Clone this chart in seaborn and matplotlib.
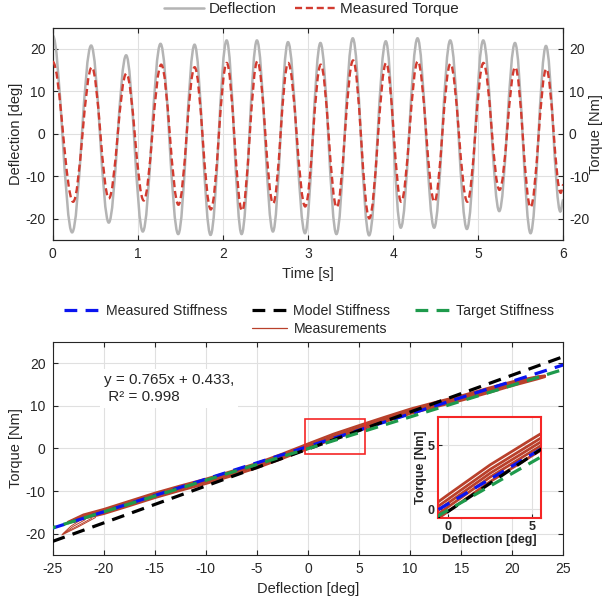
import numpy as np
import pandas as pd
import seaborn as sns
import matplotlib
matplotlib.use("Agg")
import matplotlib.pyplot as plt
from matplotlib.path import Path
from matplotlib.patches import PathPatch, Rectangle
from matplotlib.lines import Line2D

# ---------------- data ----------------
# Top panel: extrema (peaks / troughs) of the time series
defl_time = [0.0, 0.228, 0.452, 0.659, 0.863, 1.059, 1.267, 1.475, 1.667, 1.855,
             2.044, 2.22, 2.40, 2.588, 2.765, 2.965, 3.146, 3.334, 3.526, 3.718,
             3.914, 4.09, 4.287, 4.482, 4.671, 4.867, 5.059, 5.247, 5.432, 5.615,
             5.796, 5.965, 6.0]
defl_value = [23.2, -23.2, 20.8, -20.9, 18.5, -23.0, 21.2, -23.6, 21.0, -23.8,
              22.0, -23.6, 22.0, -23.0, 21.6, -23.4, 21.4, -23.6, 22.5, -23.9,
              21.8, -22.1, 22.5, -22.1, 22.0, -22.4, 22.0, -18.2, 21.4, -23.4,
              20.7, -18.3, -15.5]
torque_time = [0.0, 0.24, 0.46, 0.66, 0.865, 1.07, 1.275, 1.478, 1.668, 1.858,
               2.045, 2.225, 2.405, 2.59, 2.767, 2.967, 3.15, 3.337, 3.53, 3.72,
               3.918, 4.095, 4.29, 4.485, 4.673, 4.872, 5.061, 5.25, 5.435, 5.615,
               5.8, 5.97, 6.0]
torque_value = [17.0, -16.0, 15.7, -15.2, 14.2, -15.7, 16.3, -16.7, 15.7, -17.8,
                16.7, -18.1, 17.1, -16.4, 16.7, -17.1, 16.3, -17.3, 17.3, -19.9,
                16.7, -16.0, 17.1, -16.0, 16.5, -16.0, 16.7, -13.2, 15.7, -17.3,
                15.3, -13.9, -12.0]

time_ticks = [0, 1, 2, 3, 4, 5, 6]
val_ticks = [-20, -10, 0, 10, 20]

# Bottom panel: torque vs deflection measurement curves
meas_defl = [-23.5, -22, -20, -17.5, -15, -12.5, -10, -7.5, -5, -2.5, 0,
             2.5, 5, 7.5, 10, 12.5, 15, 17.5, 20, 22.5, 23.2]
meas_a = [-17.2, -15.5, -14.2, -12.3, -10.4, -8.7, -7.1, -5.3, -3.4, -1.2, 1.15,
          3.45, 5.45, 7.4, 9.3, 10.9, 12.4, 14.1, 15.7, 16.9, 17.1]
meas_b = [-17.3, -15.8, -14.5, -12.6, -10.7, -9.0, -7.4, -5.6, -3.7, -1.5, 0.8,
          3.1, 5.1, 7.1, 9.0, 10.6, 12.1, 13.8, 15.45, 16.75, 17.0]
meas_c = [-17.4, -16.0, -14.8, -12.9, -11.0, -9.3, -7.7, -5.9, -4.0, -1.8, 0.5,
          2.8, 4.8, 6.8, 8.7, 10.3, 11.8, 13.5, 15.2, 16.6, 16.9]
meas_d = [-17.5, -16.2, -15.1, -13.2, -11.3, -9.6, -8.0, -6.2, -4.3, -2.1, 0.2,
          2.5, 4.5, 6.5, 8.4, 10.0, 11.5, 13.2, 14.95, 16.45, 16.8]
meas_e = [-17.6, -16.5, -15.4, -13.55, -11.65, -9.95, -8.35, -6.55, -4.65, -2.45, -0.15,
          2.15, 4.15, 6.15, 8.05, 9.65, 11.15, 12.85, 14.6, 16.2, 16.7]
hook1_defl = [-20.8, -22.5, -24.1, -23.0, -21.8]
hook1_torque = [-16.2, -18.4, -20.3, -18.3, -16.7]
hook2_defl = [-21.2, -22.8, -24.0, -23.2, -22.4]
hook2_torque = [-16.4, -18.5, -20.0, -18.2, -17.0]

stiff_defl = [-25, 25]
measured_stiff = [-18.69, 19.56]
model_stiff = [-21.8, 21.5]
target_stiff = [-18.6, 18.5]

defl_ticks = [-25, -20, -15, -10, -5, 0, 5, 10, 15, 20, 25]
inset_ticks = [0, 5]
zoom_box = [-0.3, 5.6, -1.25, 7.0]      # x0, x1, y0, y1 of the red box
inset_lims = [-0.64, 5.54, -0.7, 7.2]

fit_text = "y = 0.765x + 0.433,\n R\u00b2 = 0.998"

# ---------------- style ----------------
sns.set_theme(style="whitegrid")
plt.rcParams['font.family'] = ['Liberation Sans', 'DejaVu Sans']
dark = '#262626'
plt.rcParams.update({
    'axes.edgecolor': dark, 'axes.linewidth': 0.8,
    'grid.color': '#E0E0E0', 'grid.linewidth': 0.8,
    'text.color': dark, 'axes.labelcolor': dark,
    'xtick.color': dark, 'ytick.color': dark,
    'xtick.direction': 'in', 'ytick.direction': 'in',
    'axes.unicode_minus': False,
})

GRAY = '#B4B4B4'
RED_T = '#D23B30'
MEAS = '#B9402B'
BLUE = '#0A14F0'
GREEN = '#1E9A4C'
BOX_RED = '#F52626'

fig = plt.figure(figsize=(6.09, 6.05), dpi=100)
ax1 = fig.add_axes([0.0865, 0.6033, 0.8385, 0.3509])
ax2 = ax1.twinx()
ax3 = fig.add_axes([0.0865, 0.0826, 0.8385, 0.3526])
axin = fig.add_axes([0.7187, 0.1433, 0.1691, 0.1679])


def smooth_path(ts, vs, k=0.363):
    verts = [(ts[0], vs[0])]
    codes = [Path.MOVETO]
    for i in range(1, len(ts)):
        t0, v0, t1, v1 = ts[i - 1], vs[i - 1], ts[i], vs[i]
        dt = t1 - t0
        verts += [(t0 + k * dt, v0), (t1 - k * dt, v1), (t1, v1)]
        codes += [Path.CURVE4] * 3
    return Path(verts, codes)


# ---------------- top panel ----------------
ax1.add_patch(PathPatch(smooth_path(defl_time, defl_value), fill=False,
                        edgecolor=GRAY, lw=1.8, zorder=3))
ax2.add_patch(PathPatch(smooth_path(torque_time, torque_value), fill=False,
                        edgecolor=RED_T, lw=1.7, linestyle=(0, (3.0, 1.6)),
                        capstyle='butt', zorder=3))
for a in (ax1, ax2):
    a.set_xlim(0, 6)
    a.set_ylim(-25, 25)
    a.set_yticks(val_ticks)
ax1.set_xticks(time_ticks)
ax1.grid(True)
ax2.grid(False)
ax1.tick_params(axis='both', labelsize=10, length=3.5, width=0.8, pad=5,
                bottom=True, top=True, left=True, right=False)
ax2.tick_params(axis='y', labelsize=10, length=3.5, width=0.8, pad=4, right=True)
ax1.set_xlabel('Time [s]', fontsize=10.5, labelpad=4)
ax1.set_ylabel('Deflection [deg]', fontsize=10.5, labelpad=2)
ax2.set_ylabel('Torque [Nm]', fontsize=10.5, labelpad=0)

top_handles = [Line2D([], [], color=GRAY, lw=1.8),
               Line2D([], [], color=RED_T, lw=1.7, linestyle=(0, (3.0, 1.6)))]
fig.legend(top_handles, ['Deflection', 'Measured Torque'], loc='center',
           bbox_to_anchor=(0.5115, 0.985), ncol=2, frameon=False, fontsize=11,
           handlelength=2.6, handletextpad=0.35, columnspacing=1.2,
           borderpad=0.1)

# ---------------- bottom panel ----------------
meas_rows = []
for name, ys in zip('abcde', [meas_a, meas_b, meas_c, meas_d, meas_e]):
    for x, y in zip(meas_defl, ys):
        meas_rows.append({'cycle': name, 'defl': x, 'torque': y})
meas_df = pd.DataFrame(meas_rows)

hook_rows = []
for name, xs, ys in [('h1', hook1_defl, hook1_torque), ('h2', hook2_defl, hook2_torque)]:
    for x, y in zip(xs, ys):
        hook_rows.append({'cycle': name, 'defl': x, 'torque': y})
hook_df = pd.DataFrame(hook_rows)

DASH = (0, (4.0, 2.6))
DASH_G = (3.0, (4.0, 2.6))


def draw_all(ax, lw_meas):
    sns.lineplot(data=hook_df, x='defl', y='torque', units='cycle', estimator=None,
                 sort=False, color=MEAS, lw=0.7, ax=ax, legend=False, zorder=2)
    sns.lineplot(data=meas_df, x='defl', y='torque', units='cycle', estimator=None,
                 sort=False, color=MEAS, lw=lw_meas, ax=ax, legend=False, zorder=2)
    sns.lineplot(x=stiff_defl, y=measured_stiff, color=BLUE, lw=2.3, linestyle=DASH,
                 ax=ax, legend=False, zorder=3)
    sns.lineplot(x=stiff_defl, y=model_stiff, color='black', lw=2.3, linestyle=DASH,
                 ax=ax, legend=False, zorder=4)
    sns.lineplot(x=stiff_defl, y=target_stiff, color=GREEN, lw=2.3,
                 linestyle=DASH_G, ax=ax, legend=False, zorder=5)


draw_all(ax3, 1.4)
ax3.set_xlim(-25, 25)
ax3.set_ylim(-25, 25)
ax3.set_xticks(defl_ticks)
ax3.set_yticks(val_ticks)
ax3.grid(True)
ax3.tick_params(axis='both', labelsize=10, length=3.5, width=0.8, pad=5,
                bottom=True, top=True, left=True, right=True)
ax3.set_xlabel('Deflection [deg]', fontsize=10.5, labelpad=4)
ax3.set_ylabel('Torque [Nm]', fontsize=10.5, labelpad=2)

ax3.text(-20.0, 14.05, fit_text, fontsize=11, ha='left', va='center',
         linespacing=1.3, zorder=6,
         bbox=dict(facecolor='white', edgecolor='none', pad=3))

ax3.add_patch(Rectangle((zoom_box[0], zoom_box[2]), zoom_box[1] - zoom_box[0],
                        zoom_box[3] - zoom_box[2], fill=False,
                        edgecolor=BOX_RED, lw=1.2, zorder=7))

# inset
draw_all(axin, 2.0)
axin.set_xlim(inset_lims[0], inset_lims[1])
axin.set_ylim(inset_lims[2], inset_lims[3])
axin.set_xticks(inset_ticks)
axin.set_yticks(inset_ticks)
axin.set_facecolor('white')
axin.grid(True)
for s in axin.spines.values():
    s.set_edgecolor(BOX_RED)
    s.set_linewidth(1.5)
axin.tick_params(axis='both', labelsize=9, length=3, width=0.8, pad=2,
                 bottom=True, left=True, top=False, right=False)
for lab in axin.get_xticklabels() + axin.get_yticklabels():
    lab.set_fontweight('bold')
axin.set_xlabel('Deflection [deg]', fontsize=9, fontweight='bold', labelpad=1)
axin.set_ylabel('Torque [Nm]', fontsize=9, fontweight='bold', labelpad=1)

blank = Line2D([], [], alpha=0)
bot_handles = [Line2D([], [], color=BLUE, lw=2.3, linestyle=DASH), blank,
               Line2D([], [], color='black', lw=2.3, linestyle=DASH),
               Line2D([], [], color=MEAS, lw=0.9),
               Line2D([], [], color=GREEN, lw=2.3, linestyle=DASH), blank]
bot_labels = ['Measured Stiffness', ' ', 'Model Stiffness', 'Measurements',
              'Target Stiffness', ' ']
fig.legend(bot_handles, bot_labels, loc='center', bbox_to_anchor=(0.508, 0.471),
           ncol=3, frameon=False, fontsize=10.2, handlelength=2.5,
           handletextpad=0.45, columnspacing=1.7, labelspacing=0.25,
           borderpad=0.1)

fig.savefig('out.png', dpi=100)
